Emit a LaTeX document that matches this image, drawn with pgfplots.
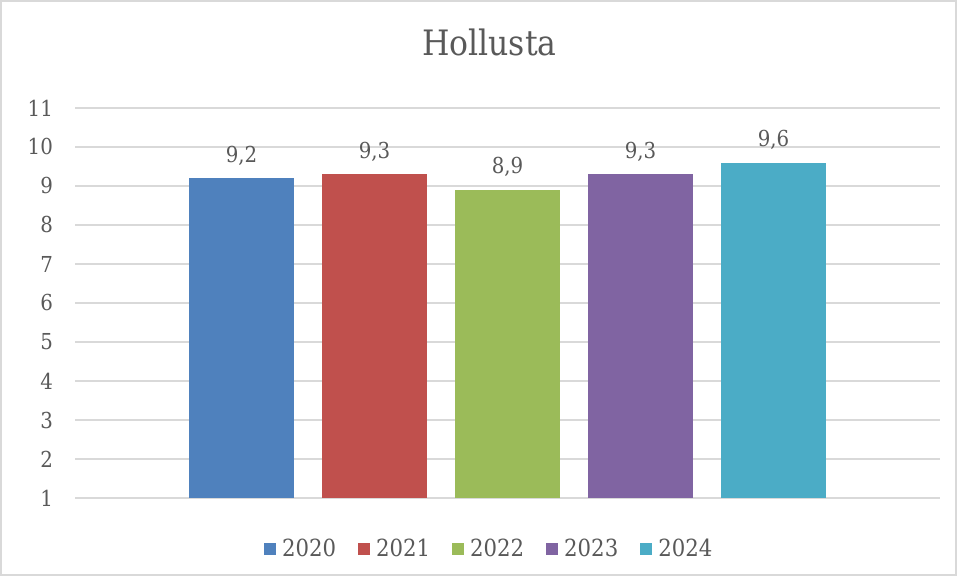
\documentclass[border=0pt]{standalone}
\usepackage{fontspec}
\setmainfont[FakeStretch=0.9]{DejaVu Serif}
\usepackage{pgfplots}
\pgfplotsset{compat=1.18}

\definecolor{c2020}{HTML}{4F81BD}
\definecolor{c2021}{HTML}{C0504D}
\definecolor{c2022}{HTML}{9BBB59}
\definecolor{c2023}{HTML}{8064A2}
\definecolor{c2024}{HTML}{4BACC6}
\definecolor{txt}{HTML}{595959}
\definecolor{gridc}{HTML}{D9D9D9}

\begin{document}
\begin{tikzpicture}
\useasboundingbox (0,0) rectangle (478.5pt,288pt);
\draw[gridc, line width=0.8pt] (0.6pt,0.6pt) rectangle (477.9pt,287.4pt);
\begin{axis}[
    at={(37.5pt,39pt)}, anchor=south west,
    scale only axis, width=432.5pt, height=195pt,
    ybar=14pt, bar width=52.5pt,
    xmin=-1, xmax=1, xtick=\empty,
    ymin=1, ymax=11, ytick={1,2,...,11},
    ymajorgrids, grid style={gridc, line width=0.8pt},
    axis line style={draw=none}, major tick length=0pt,
    tick label style={font=\fontsize{11}{13}\selectfont, text=txt},
    /pgf/number format/assume math mode=true,
    yticklabel style={xshift=-7.5pt},
    title={Hollusta},
    title style={at={(0.479,1.136)}, anchor=center, font=\fontsize{17.5}{21}\selectfont, text=txt},
    nodes near coords,
    nodes near coords style={font=\fontsize{11}{13}\selectfont, text=txt, yshift=3pt,
        /pgf/number format/.cd, fixed, fixed zerofill, precision=1, use comma, assume math mode=true},
    legend style={at={(0.48,-0.131)}, anchor=center, draw=none, legend columns=-1,
        font=\fontsize{11.8}{13}\selectfont, text=txt,
        /tikz/every odd column/.append style={column sep=1pt},
        /tikz/every even column/.append style={column sep=9pt}},
    legend image code/.code={\fill[#1] (0pt,-3pt) rectangle (6pt,3pt);},
]
\addplot[fill=c2020, draw=none] coordinates {(0,9.2)};
\addplot[fill=c2021, draw=none] coordinates {(0,9.3)};
\addplot[fill=c2022, draw=none] coordinates {(0,8.9)};
\addplot[fill=c2023, draw=none] coordinates {(0,9.3)};
\addplot[fill=c2024, draw=none] coordinates {(0,9.6)};
\legend{2020,2021,2022,2023,2024}
\end{axis}
\end{tikzpicture}
\end{document}
